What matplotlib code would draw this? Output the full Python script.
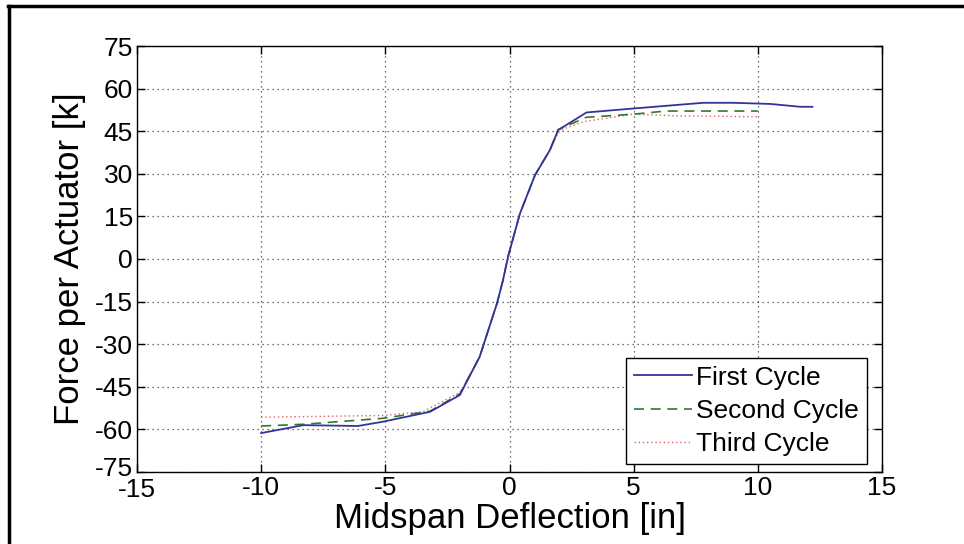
import matplotlib
matplotlib.use("Agg")
import matplotlib.pyplot as plt
import matplotlib.transforms as mtransforms
from matplotlib.lines import Line2D

plt.rcParams['font.family'] = ['Liberation Sans', 'DejaVu Sans']

# Data
x_first = [-10, -8.3, -6.1, -5.1, -3.2, -2.0, -1.2, -0.5, -0.26, -0.06, 0.42, 1.03, 1.63, 1.96, 3.1, 5.0, 7.8, 9.0, 10.5, 11.7, 12.2]
y_first = [-61.3, -58.5, -58.8, -57.3, -53.8, -47.9, -34.4, -15.5, -7.4, 0.8, 16.0, 29.6, 38.4, 45.4, 51.6, 53.0, 55.0, 55.0, 54.6, 53.6, 53.6]

x_second = [-10, -8.3, -5.1, -3.2, -2.0, -1.2, -0.5, -0.26, -0.06, 0.42, 1.03, 1.63, 1.96, 3.1, 5.0, 6.3, 10.0]
y_second = [-58.8, -58.2, -56.1, -53.6, -47.5, -34.4, -15.5, -7.4, 0.8, 16.0, 29.6, 38.4, 45.6, 49.9, 51.0, 52.1, 52.1]

x_third = [-10, -5.1, -3.5, -2.0, -1.2, -0.5, -0.26, -0.06, 0.42, 1.03, 1.63, 1.96, 2.24, 3.0, 5.0, 6.7, 10.0]
y_third = [-55.7, -55.1, -53.8, -47.0, -34.4, -15.5, -7.4, 0.8, 16.0, 29.6, 38.4, 44.5, 46.0, 48.4, 51.0, 50.4, 50.1]

labels = ["First Cycle", "Second Cycle", "Third Cycle"]
x_ticks = [-15, -10, -5, 0, 5, 10, 15]
y_ticks = [-75, -60, -45, -30, -15, 0, 15, 30, 45, 60, 75]

fig = plt.figure(figsize=(9.64, 5.44), dpi=100)
ax = fig.add_axes([137/964, 1 - 472/544, (882-137)/964, (472-46)/544])

ax.plot(x_third, y_third, color='#e06060', linestyle=(0, (1, 2)), linewidth=1.0, label=labels[2], zorder=3)
ax.plot(x_second, y_second, color='#2f7a2f', linestyle=(0, (6, 4)), linewidth=1.2, label=labels[1], zorder=4)
ax.plot(x_first, y_first, color='#33339a', linestyle='-', linewidth=1.3, label=labels[0], zorder=5)

ax.set_xlim(-15, 15)
ax.set_ylim(-75, 75)
ax.set_xticks(x_ticks)
ax.set_yticks(y_ticks)
ax.set_xticklabels([str(t) for t in x_ticks])
ax.set_yticklabels([str(t) for t in y_ticks])
ax.tick_params(direction='in', length=6, width=1, top=True, right=True, labelsize=19, pad=3)
ax.grid(True, color='#444444', linestyle=(0, (1, 3)), linewidth=0.9)
for s in ax.spines.values():
    s.set_linewidth(1.0)
    s.set_color('black')

# nudge the corner labels apart (as in the reference, -75 sits slightly above its tick)
lbl = ax.get_yticklabels()[0]
lbl.set_transform(lbl.get_transform() + mtransforms.ScaledTranslation(0, 6/100, fig.dpi_scale_trans))
xl = ax.get_xticklabels()[0]
xl.set_transform(xl.get_transform() + mtransforms.ScaledTranslation(0, -2/100, fig.dpi_scale_trans))

ax.set_xlabel("Midspan Deflection [in]", fontsize=25, labelpad=0)
ax.set_ylabel("Force per Actuator [k]", fontsize=25, labelpad=6)

handles, labs = ax.get_legend_handles_labels()
order = [2, 1, 0]
leg = ax.legend([handles[i] for i in order], [labs[i] for i in order],
                loc='lower right', fontsize=19, frameon=True, fancybox=False,
                edgecolor='black', framealpha=1, handlelength=2.2, handletextpad=0.15,
                borderpad=0.3, labelspacing=0.35, borderaxespad=0.3,
                bbox_to_anchor=(0.99, 0.0))
leg.get_frame().set_linewidth(1.0)

# figure border (top and left)
fig.add_artist(Line2D([8/964, 1], [1 - 6/544, 1 - 6/544], color='black', linewidth=2.5, transform=fig.transFigure))
fig.add_artist(Line2D([9/964, 9/964], [0, 1 - 6/544], color='black', linewidth=2.5, transform=fig.transFigure))

fig.savefig("out.png", dpi=100)
